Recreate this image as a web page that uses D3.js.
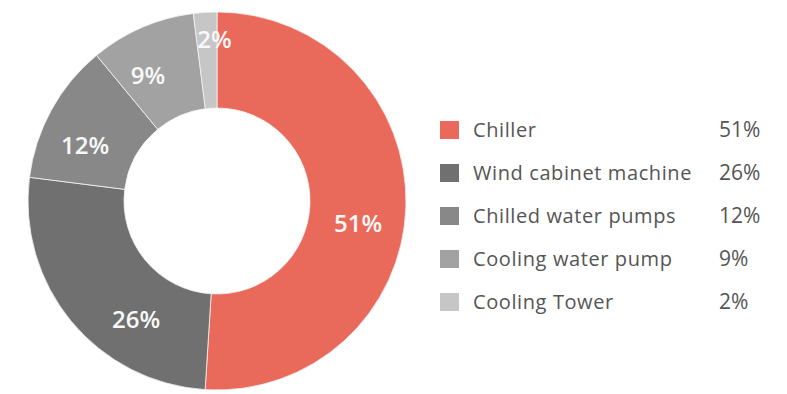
<!DOCTYPE html>
<html>
<head>
<meta charset="utf-8">
<script src="https://cdn.jsdelivr.net/npm/d3@7"></script>
<style>
  html, body { margin: 0; padding: 0; background: #fff; }
  svg { display: block; }
</style>
</head>
<body>
<svg id="chart" width="787" height="394"></svg>
<script>
// Energy consumption share by equipment
const categories = ["Chiller", "Wind cabinet machine", "Chilled water pumps", "Cooling water pump", "Cooling Tower"];
const shares = [51, 26, 12, 9, 2];
const colors = ["#e9695a", "#707070", "#888888", "#a2a2a2", "#c6c6c6"];

// ring label placement: fraction along each slice's angle, and distance from centre
const labelAlong = [0.54, 0.33, 0.36, 0.33, 0.88];
const labelRadius = [143, 143, 143, 143, 162];

const W = 787, H = 394;
const cx = 217, cy = 201;
const outerR = 189, innerR = 93;

const svg = d3.select("#chart");
const font = "'Open Sans', 'Noto Sans', sans-serif";

const data = categories.map((c, i) => ({
  name: c, value: shares[i], color: colors[i], along: labelAlong[i], lr: labelRadius[i]
}));

const pie = d3.pie().value(d => d.value).sort(null);
const arcs = pie(data);
const arc = d3.arc().innerRadius(innerR).outerRadius(outerR);

const g = svg.append("g").attr("transform", `translate(${cx},${cy})`);

g.selectAll("path.slice")
  .data(arcs)
  .join("path")
  .attr("class", "slice")
  .attr("d", arc)
  .attr("fill", d => d.data.color)
  .attr("stroke", "#f4f4f4")
  .attr("stroke-width", 0.8);

g.selectAll("text.pct")
  .data(arcs)
  .join("text")
  .attr("class", "pct")
  .attr("transform", d => {
    const a = d.startAngle + (d.endAngle - d.startAngle) * d.data.along;
    return `translate(${d.data.lr * Math.sin(a)},${-d.data.lr * Math.cos(a)})`;
  })
  .attr("text-anchor", "middle")
  .attr("dy", "0.36em")
  .attr("fill", "#f8f8f8")
  .attr("font-family", font)
  .attr("font-weight", 600)
  .attr("font-size", 24)
  .text(d => d.data.value + "%");

// Legend
const legend = svg.append("g").attr("transform", "translate(440,130)");
const rowH = 43;
const rows = legend.selectAll("g.row")
  .data(data)
  .join("g")
  .attr("class", "row")
  .attr("transform", (d, i) => `translate(0,${i * rowH})`);

rows.append("rect")
  .attr("x", 0).attr("y", -9)
  .attr("width", 19).attr("height", 18)
  .attr("fill", d => d.color);

rows.append("text")
  .attr("x", 33)
  .attr("dy", "0.35em")
  .attr("fill", "#555555")
  .attr("font-family", font)
  .attr("font-size", 20)
  .attr("letter-spacing", 0.6)
  .text(d => d.name);

rows.append("text")
  .attr("x", 279)
  .attr("dy", "0.35em")
  .attr("fill", "#555555")
  .attr("font-family", font)
  .attr("font-weight", 500)
  .attr("font-size", 21)
  .text(d => d.value + "%");
</script>
</body>
</html>
